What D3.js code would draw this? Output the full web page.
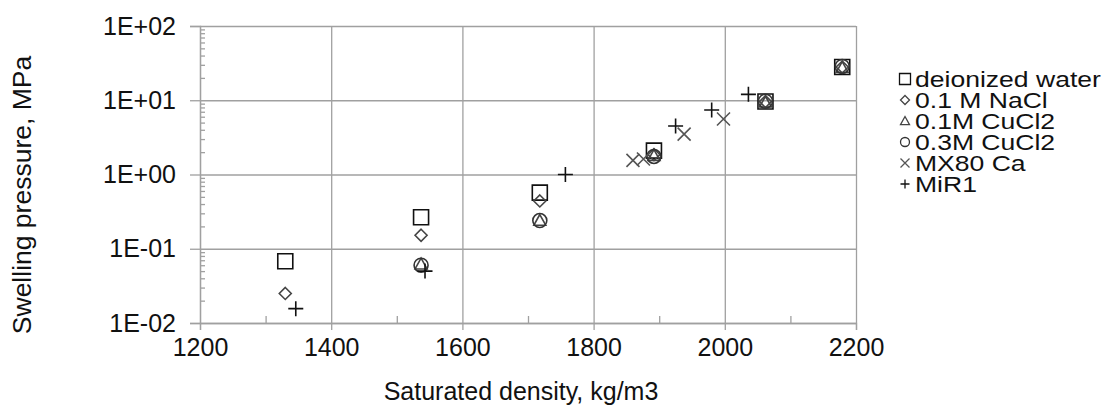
<!DOCTYPE html>
<html>
<head>
<meta charset="utf-8">
<script src="https://cdn.jsdelivr.net/npm/d3@7"></script>
<style>
  body { margin: 0; background: #fff; }
  text { font-family: "Liberation Sans", Arial, sans-serif; fill: #111; }
</style>
</head>
<body>
<div id="chart"></div>
<script>
// Series names and glyphs
var seriesNames = ["deionized water", "0.1 M NaCl", "0.1M CuCl2", "0.3M CuCl2", "MX80 Ca", "MiR1"];
var seriesGlyphs = ["square", "diamond", "triangle", "circle", "times", "plus"];

// Values: [saturated density, swelling pressure]
var deionized = [[1330, 0.068], [1537, 0.265], [1718, 0.57], [1892, 2.1], [2062, 9.6], [2179, 28]];
var nacl = [[1330, 0.025], [1537, 0.152], [1718, 0.44], [1892, 1.85], [2062, 9.6], [2179, 28]];
var cucl01 = [[1537, 0.062], [1718, 0.24], [1892, 1.8], [2062, 9.4], [2179, 27.5]];
var cucl03 = [[1537, 0.06], [1718, 0.24], [1892, 1.75], [2062, 9.7], [2179, 28.5]];
var mx80 = [[1860, 1.55], [1876, 1.62], [1938, 3.5], [1998, 5.6]];
var mir1 = [[1346, 0.0156], [1543, 0.05], [1757, 1.0], [1925, 4.5], [1980, 7.4], [2036, 12]];

var xTicks = [1200, 1400, 1600, 1800, 2000, 2200];
var xMinorTicks = [1300, 1500, 1700, 1900, 2100];
var yTicks = [0.01, 0.1, 1, 10, 100];
var yTickLabels = ["1E-02", "1E-01", "1E+00", "1E+01", "1E+02"];

var allSeries = [deionized, nacl, cucl01, cucl03, mx80, mir1];

var svgWidth = 1114;
var svgHeight = 408;
var plot = { left: 200, right: 856, top: 26, bottom: 323 };
var gridColor = "#a0a0a0";

var svg = d3.select("#chart")
  .append("svg")
  .attr("width", svgWidth)
  .attr("height", svgHeight);

svg.append("rect").attr("width", svgWidth).attr("height", svgHeight).attr("fill", "#fff");

var x = d3.scaleLinear().domain([1200, 2200]).range([plot.left, plot.right]);
var y = d3.scaleLog().domain([0.01, 100]).range([plot.bottom, plot.top]);

// glyph outlines centred on 0,0
function glyph(type, r) {
  var p = d3.path();
  if (type === "square") {
    p.rect(-r, -r, 2 * r, 2 * r);
  } else if (type === "diamond") {
    p.moveTo(0, -r); p.lineTo(r, 0); p.lineTo(0, r); p.lineTo(-r, 0); p.closePath();
  } else if (type === "triangle") {
    p.moveTo(0, -r); p.lineTo(r, r * 0.8); p.lineTo(-r, r * 0.8); p.closePath();
  } else if (type === "circle") {
    p.arc(0, 0, r, 0, 2 * Math.PI);
  } else if (type === "times") {
    p.moveTo(-r, -r); p.lineTo(r, r); p.moveTo(-r, r); p.lineTo(r, -r);
  } else if (type === "plus") {
    p.moveTo(-r, 0); p.lineTo(r, 0); p.moveTo(0, -r); p.lineTo(0, r);
  }
  return p.toString();
}

var glyphSize = { square: 7.5, diamond: 6, triangle: 6, circle: 7, times: 6.5, plus: 7.5 };
var glyphColor = { square: "#111", diamond: "#444", triangle: "#444", circle: "#333", times: "#555", plus: "#111" };

// Grid lines
svg.append("g")
  .attr("transform", `translate(0, ${plot.bottom})`)
  .call(d3.axisBottom(x).tickValues(xTicks).tickSize(-(plot.bottom - plot.top)).tickFormat(""))
  .call(g => g.select(".domain").remove())
  .call(g => g.selectAll("line").attr("stroke", gridColor).attr("stroke-width", 1.3));

svg.append("g")
  .attr("transform", `translate(${plot.left}, 0)`)
  .call(d3.axisLeft(y).tickValues(yTicks).tickSize(-(plot.right - plot.left)).tickFormat(""))
  .call(g => g.select(".domain").remove())
  .call(g => g.selectAll("line").attr("stroke", gridColor).attr("stroke-width", 1.3));

// Bottom axis with labels and outward ticks
var bottomAxis = d3.axisBottom(x).tickValues(xTicks).tickSize(7).tickPadding(8)
  .tickFormat(d3.format("d"));
svg.append("g")
  .attr("transform", `translate(0, ${plot.bottom})`)
  .call(bottomAxis)
  .call(g => g.select(".domain").attr("stroke", gridColor).attr("stroke-width", 1.3))
  .call(g => g.selectAll("line").attr("stroke", gridColor).attr("stroke-width", 1.3))
  .call(g => g.selectAll("text").attr("font-size", 25).attr("font-family", "Liberation Sans, Arial, sans-serif").attr("fill", "#111"));

// Minor x ticks pointing up
svg.append("g")
  .attr("transform", `translate(0, ${plot.bottom})`)
  .call(d3.axisTop(x).tickValues(xMinorTicks).tickSize(7).tickFormat(""))
  .call(g => g.select(".domain").remove())
  .call(g => g.selectAll("line").attr("stroke", gridColor).attr("stroke-width", 1.3));

// Left axis with labels
var leftAxis = d3.axisLeft(y).tickValues(yTicks).tickSize(10).tickPadding(14)
  .tickFormat((d, i) => yTickLabels[i]);
svg.append("g")
  .attr("transform", `translate(${plot.left}, 0)`)
  .call(leftAxis)
  .call(g => g.select(".domain").attr("stroke", gridColor).attr("stroke-width", 1.3))
  .call(g => g.selectAll("line").attr("stroke", gridColor).attr("stroke-width", 1.3))
  .call(g => g.selectAll("text").attr("font-size", 25).attr("font-family", "Liberation Sans, Arial, sans-serif").attr("fill", "#111"));

// Minor y ticks pointing inward
var yMinor = [];
yTicks.slice(0, -1).forEach(function(d) {
  for (var k = 2; k <= 9; k++) yMinor.push(d * k);
});
svg.append("g")
  .attr("transform", `translate(${plot.left}, 0)`)
  .call(d3.axisRight(y).tickValues(yMinor).tickSize(5).tickFormat(""))
  .call(g => g.select(".domain").remove())
  .call(g => g.selectAll("line").attr("stroke", gridColor).attr("stroke-width", 1.3));

// Axis titles
svg.append("text")
  .attr("x", 521)
  .attr("y", 400)
  .attr("text-anchor", "middle")
  .attr("font-size", 25)
  .text("Saturated density, kg/m3");

svg.append("text")
  .attr("transform", "translate(31, 195) rotate(-90)")
  .attr("text-anchor", "middle")
  .attr("font-size", 26.5)
  .text("Swelling pressure, MPa");

// Points
allSeries.forEach(function(data, i) {
  var type = seriesGlyphs[i];
  svg.append("g")
    .selectAll("path")
    .data(data)
    .enter()
    .append("path")
    .attr("transform", d => `translate(${x(d[0])}, ${y(d[1])})`)
    .attr("d", glyph(type, glyphSize[type]))
    .attr("fill", "none")
    .attr("stroke", glyphColor[type])
    .attr("stroke-width", 1.6);
});

// Legend (text is drawn a little wide, as in the reference)
var legend = svg.append("g").attr("transform", "translate(905, 79)");
seriesNames.forEach(function(name, i) {
  var type = seriesGlyphs[i];
  var row = legend.append("g").attr("transform", `translate(0, ${i * 21})`);
  row.append("path")
    .attr("d", glyph(type, type === "square" ? 5.5 : 4.5))
    .attr("fill", "none")
    .attr("stroke", glyphColor[type])
    .attr("stroke-width", 1.3);
  row.append("text")
    .attr("transform", "translate(10, 8) scale(1.18, 1)")
    .attr("font-size", 22.5)
    .text(name);
});
</script>
</body>
</html>
